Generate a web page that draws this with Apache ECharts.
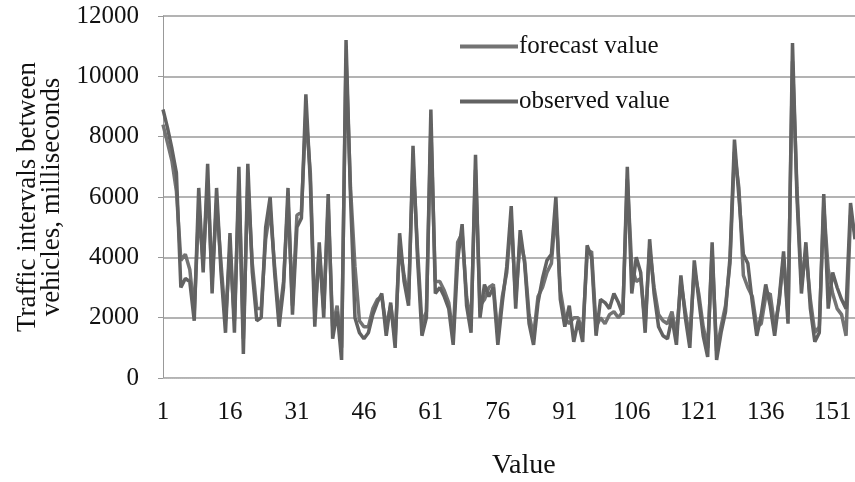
<!DOCTYPE html>
<html>
<head>
<meta charset="utf-8">
<script src="https://cdn.jsdelivr.net/npm/echarts@6/dist/echarts.min.js"></script>
<style>
  html, body { margin: 0; padding: 0; background: #fff; }
  #chart { width: 855px; height: 482px; }
</style>
</head>
<body>
<div id="chart"></div>
<script>
// x categories 1..156
const categories = [];
for (let i = 1; i <= 156; i++) categories.push(String(i));

const yTicks = [0, 2000, 4000, 6000, 8000, 10000, 12000];

const observed = [
  8900, 8300, 7600, 6800, 3000, 3300, 3200, 1900, 6300, 3500,
  7100, 2800, 6300, 3500, 1500, 4800, 1500, 7000, 800, 7100,
  3500, 1900, 2000, 5000, 6000, 3500, 1700, 3000, 6300, 2100,
  5000, 5300, 9400, 6500, 1700, 4500, 2000, 6100, 1300, 2200,
  600, 11200, 6000, 2000, 1500, 1300, 1500, 2100, 2500, 2800,
  1400, 2500, 1000, 4800, 3200, 2400, 7700, 4000, 1400, 2000,
  8900, 2800, 3000, 2700, 2300, 1100, 3900, 5100, 2400, 1500,
  7400, 2000, 3100, 2700, 3000, 1100, 2500, 3700, 5700, 2300,
  4900, 3800, 1800, 1100, 2500, 3300, 3900, 4100, 6000, 2600,
  1700, 2400, 1200, 1900, 1200, 4400, 4000, 1400, 2600, 2500,
  2300, 2800, 2500, 2100, 7000, 2800, 4000, 3500, 1500, 4600,
  2800, 1700, 1400, 1300, 2000, 1100, 3400, 2000, 1000, 3900,
  2600, 1400, 700, 4500, 600, 1500, 2200, 4000, 7900, 6000,
  4100, 3800, 2500, 1400, 2100, 3100, 2400, 1400, 2600, 4200,
  1800, 11100, 6000, 2800, 4500, 2300, 1200, 1500, 6100, 2300,
  3500, 3000, 2600, 2300, 5800, 4600
];

const forecast = [
  8400, 7800, 7200, 6200, 3900, 4100, 3600, 2200, 5600, 3800,
  6500, 3200, 5800, 3800, 1900, 4300, 1900, 6400, 1300, 6500,
  3800, 2300, 2300, 4600, 5600, 3700, 2000, 3200, 5900, 2400,
  5400, 5500, 8800, 6800, 2100, 4200, 2300, 5700, 1700, 2400,
  1000, 10600, 6300, 3700, 1900, 1700, 1700, 2300, 2600, 2700,
  1700, 2400, 1300, 4400, 3400, 2600, 7200, 4300, 1800, 2200,
  8300, 3200, 3200, 2900, 2500, 1400, 4500, 4800, 2700, 1800,
  6900, 2400, 2600, 3000, 3100, 1400, 2700, 3500, 5300, 2600,
  4600, 3900, 2100, 1400, 2700, 3000, 3500, 3800, 5600, 2900,
  2000, 1800, 2000, 2000, 1500, 4100, 4200, 1700, 2000, 1800,
  2100, 2200, 2000, 2200, 6600, 3700, 3200, 3300, 1800, 4300,
  3000, 2100, 1900, 1800, 2200, 1400, 3200, 2200, 1300, 3600,
  2800, 1700, 1000, 4200, 900, 1700, 2400, 3800, 7500, 6300,
  3400, 3000, 2700, 1700, 1800, 2700, 2800, 1700, 2500, 4000,
  2100, 10500, 6300, 3100, 4200, 2600, 1500, 1700, 5700, 3600,
  2800, 2300, 2100, 1400, 5400, 4800
];

const font = 'Liberation Serif';
const chart = echarts.init(document.getElementById('chart'));

chart.setOption({
  animation: false,
  backgroundColor: '#fff',
  textStyle: { fontFamily: font, color: '#111' },
  grid: { left: 163, right: 0, top: 16, bottom: 104, outerBoundsMode: 'none', containLabel: false },
  legend: {
    orient: 'vertical',
    left: 455,
    top: 29,
    itemGap: 30,
    itemWidth: 58,
    itemHeight: 4,
    icon: 'rect',
    textStyle: { fontFamily: font, fontSize: 25, color: '#111', padding: [0, 0, 0, -4] },
    data: ['forecast value', 'observed value']
  },
  xAxis: {
    type: 'category',
    data: categories,
    boundaryGap: false,
    axisLine: { lineStyle: { color: '#bbb', type: 'dotted', width: 1 } },
    axisTick: { show: false },
    axisLabel: {
      interval: 14,
      fontFamily: font,
      fontSize: 25,
      color: '#111',
      margin: 22
    }
  },
  yAxis: {
    type: 'value',
    min: 0,
    max: yTicks[yTicks.length - 1],
    interval: 2000,
    name: 'Traffic intervals between\nvehicles, milliseconds',
    nameLocation: 'middle',
    nameGap: 98,
    nameTextStyle: { fontFamily: font, fontSize: 27, color: '#111', lineHeight: 24 },
    axisLine: { show: true, lineStyle: { color: '#999', width: 1 } },
    axisTick: { show: true, inside: false, length: 5, lineStyle: { color: '#999' } },
    axisLabel: {
      fontFamily: font,
      fontSize: 25,
      color: '#111',
      margin: 24,
      formatter: v => String(v)
    },
    splitLine: { show: true, lineStyle: { color: '#9a9a9a', width: 1.5 } }
  },
  graphic: [{
    type: 'text',
    left: 492,
    top: 452,
    style: { text: 'Value', font: '28px "Liberation Serif"', fill: '#111' }
  }],
  series: [
    {
      name: 'forecast value',
      type: 'line',
      data: forecast,
      showSymbol: false,
      lineStyle: { color: '#737373', width: 3.5 },
      itemStyle: { color: '#737373' }
    },
    {
      name: 'observed value',
      type: 'line',
      data: observed,
      showSymbol: false,
      lineStyle: { color: '#626262', width: 3.5 },
      itemStyle: { color: '#626262' }
    }
  ]
});
</script>
</body>
</html>
